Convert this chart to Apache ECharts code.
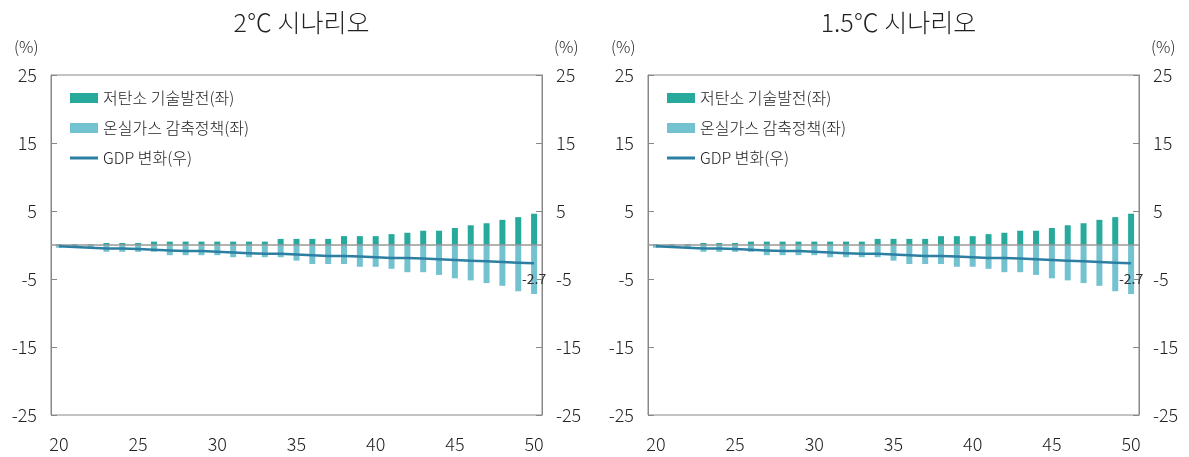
<!DOCTYPE html>
<html>
<head>
<meta charset="utf-8">
<script src="https://cdn.jsdelivr.net/npm/echarts@6/dist/echarts.min.js"></script>
<style>
html,body{margin:0;padding:0;background:#fff;}
#main{width:1189px;height:457px;}
</style>
</head>
<body>
<div id="main"></div>
<script>
// ---- data ----
const categories = ['20','21','22','23','24','25','26','27','28','29','30','31','32','33','34','35','36','37','38','39','40','41','42','43','44','45','46','47','48','49','50'];
const yTicks = [-25, -15, -5, 5, 15, 25];
const titles = ['2℃ 시나리오', '1.5℃ 시나리오'];
const seriesNames = ['저탄소 기술발전(좌)', '온실가스 감축정책(좌)', 'GDP 변화(우)'];

// 2℃ scenario
const tech2 = [0.1,0.1,0.1,0.3,0.3,0.3,0.5,0.5,0.5,0.5,0.5,0.5,0.5,0.5,0.9,0.9,0.9,0.9,1.3,1.3,1.3,1.6,1.8,2.1,2.1,2.5,2.9,3.2,3.7,4.1,4.6];
const policy2 = [-0.4,-0.4,-0.4,-1.0,-1.0,-1.0,-1.0,-1.5,-1.5,-1.5,-1.5,-1.8,-1.8,-1.8,-1.8,-2.3,-2.8,-2.8,-2.8,-3.2,-3.2,-3.5,-4.0,-4.0,-4.4,-4.9,-5.2,-5.6,-6.0,-6.8,-7.2];
const gdp2 = [-0.2,-0.3,-0.4,-0.5,-0.5,-0.6,-0.7,-0.8,-0.9,-0.9,-1.0,-1.1,-1.2,-1.3,-1.3,-1.4,-1.5,-1.6,-1.6,-1.7,-1.8,-1.9,-1.9,-2.0,-2.1,-2.2,-2.3,-2.4,-2.5,-2.6,-2.7];

// 1.5℃ scenario
const tech15 = [0.1,0.1,0.1,0.3,0.3,0.3,0.5,0.5,0.5,0.5,0.5,0.5,0.5,0.5,0.9,0.9,0.9,0.9,1.3,1.3,1.3,1.6,1.8,2.1,2.1,2.5,2.9,3.2,3.7,4.1,4.6];
const policy15 = [-0.4,-0.4,-0.4,-1.0,-1.0,-1.0,-1.0,-1.5,-1.5,-1.5,-1.5,-1.8,-1.8,-1.8,-1.8,-2.3,-2.8,-2.8,-2.8,-3.2,-3.2,-3.5,-4.0,-4.0,-4.4,-4.9,-5.2,-5.6,-6.0,-6.8,-7.2];
const gdp15 = [-0.2,-0.3,-0.4,-0.5,-0.5,-0.6,-0.7,-0.8,-0.9,-0.9,-1.0,-1.1,-1.2,-1.3,-1.3,-1.4,-1.5,-1.6,-1.6,-1.7,-1.8,-1.9,-1.9,-2.0,-2.1,-2.2,-2.3,-2.4,-2.5,-2.6,-2.7];

// ---- styling ----
const FONT = "'Noto Sans CJK KR', 'Noto Sans', sans-serif";
const C_TECH = '#27a99b';
const C_POLICY = '#73c2cf';
const C_GDP = '#2c7fa2';
const C_AXIS = '#888888';
const C_TEXT = '#222222';

const panels = [
  {left: 51, right: 1189 - 542, tech: tech2, policy: policy2, gdp: gdp2, title: titles[0]},
  {left: 648, right: 1189 - 1139, tech: tech15, policy: policy15, gdp: gdp15, title: titles[1]}
];

const option = {
  animation: false,
  textStyle: {fontFamily: FONT},
  title: [], grid: [], xAxis: [], yAxis: [], series: [], legend: [], graphic: []
};

panels.forEach((p, i) => {
  const gridWidth = 1189 - p.left - p.right;
  option.title.push({
    text: p.title, left: p.left + gridWidth / 2, top: 5, textAlign: 'center',
    textStyle: {fontFamily: FONT, fontSize: 25, fontWeight: 300, color: C_TEXT}
  });
  option.grid.push({
    left: p.left, right: p.right, top: 75, bottom: 42,
    show: true, borderColor: C_AXIS, borderWidth: 1, backgroundColor: 'transparent'
  });
  option.xAxis.push({
    type: 'category', gridIndex: i, data: categories,
    axisLine: {show: false}, axisTick: {show: false},
    axisLabel: {interval: 4, fontSize: 18, margin: 20, color: C_TEXT, fontFamily: FONT, fontWeight: 300}
  });
  const yCommon = {
    type: 'value', gridIndex: i, min: yTicks[0], max: yTicks[yTicks.length - 1], interval: 10,
    splitLine: {show: false},
    axisLine: {show: true, lineStyle: {color: C_AXIS, width: 1}},
    axisTick: {show: true, inside: true, length: 6, lineStyle: {color: C_AXIS}},
    axisLabel: {fontSize: 18, color: C_TEXT, fontFamily: FONT, fontWeight: 300, margin: 14, padding: [9, 0, 0, 0]}
  };
  option.yAxis.push(Object.assign({}, yCommon, {position: 'left'}));
  option.yAxis.push(Object.assign({}, yCommon, {position: 'right'}));

  option.series.push({
    name: seriesNames[0], type: 'bar', xAxisIndex: i, yAxisIndex: 2 * i,
    stack: 'pos' + i, barWidth: 6, data: p.tech,
    itemStyle: {color: C_TECH}
  });
  option.series.push({
    name: seriesNames[1], type: 'bar', xAxisIndex: i, yAxisIndex: 2 * i,
    stack: 'pos' + i, barWidth: 6, data: p.policy,
    itemStyle: {color: C_POLICY},
    markLine: {
      silent: true, symbol: 'none', label: {show: false},
      lineStyle: {color: '#999999', width: 1.5, type: 'solid'},
      data: [{yAxis: 0}], z: 3
    }
  });
  const lastIdx = p.gdp.length - 1;
  option.series.push({
    name: seriesNames[2], type: 'line', xAxisIndex: i, yAxisIndex: 2 * i + 1,
    data: p.gdp, symbol: 'none', z: 5,
    lineStyle: {color: C_GDP, width: 2.5}, itemStyle: {color: C_GDP},
    markPoint: {
      silent: true, symbol: 'circle', symbolSize: 1,
      itemStyle: {color: 'rgba(0,0,0,0)'},
      label: {show: true, position: 'bottom', distance: 8, fontSize: 14, color: '#333', fontFamily: FONT,
        formatter: (d) => String(d.value)},
      data: [{coord: [categories[lastIdx], p.gdp[lastIdx]], value: p.gdp[lastIdx]}]
    }
  });

  option.legend.push({
    orient: 'vertical', left: p.left + 14, top: 84,
    itemWidth: 28, itemHeight: 10, itemGap: 12,
    textStyle: {fontSize: 16, color: C_TEXT, fontFamily: FONT, fontWeight: 300, lineHeight: 18},
    data: [
      {name: seriesNames[0], icon: 'rect'},
      {name: seriesNames[1], icon: 'rect'},
      {name: seriesNames[2], icon: 'path://M0,0 L28,0 L28,3 L0,3 Z'}
    ],
    selectedMode: false
  });

  option.graphic.push({
    type: 'text', left: p.left - 37, top: 39,
    style: {text: '(%)', fontSize: 16, fill: C_TEXT, fontFamily: FONT, fontWeight: 300}
  });
  option.graphic.push({
    type: 'text', left: 1189 - p.right + 12, top: 39,
    style: {text: '(%)', fontSize: 16, fill: C_TEXT, fontFamily: FONT, fontWeight: 300}
  });
});

const chart = echarts.init(document.getElementById('main'), null, {renderer: 'canvas'});
chart.setOption(option);
</script>
</body>
</html>
